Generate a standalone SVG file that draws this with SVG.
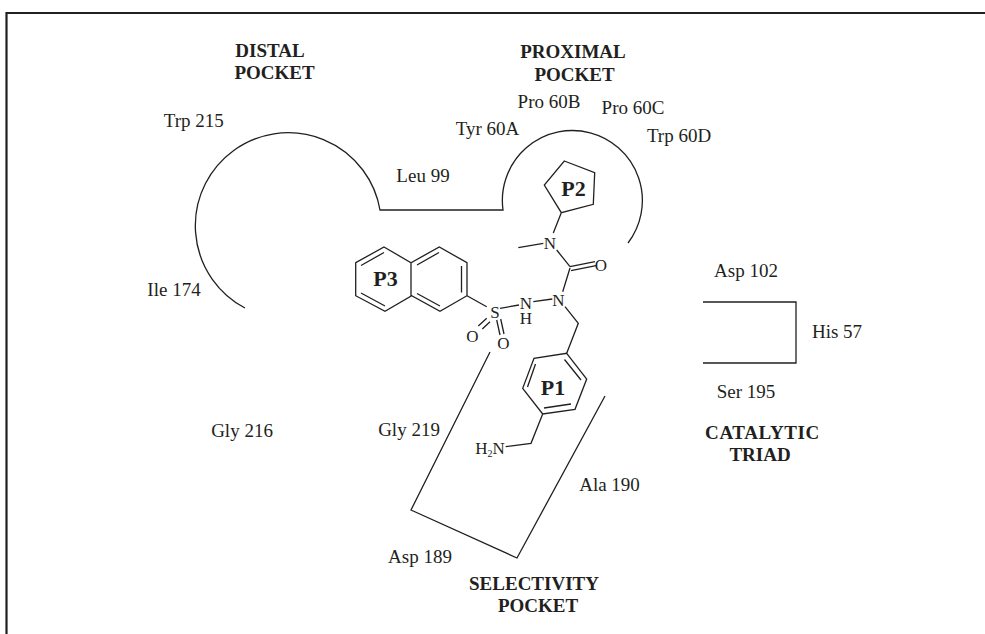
<svg xmlns="http://www.w3.org/2000/svg" width="985" height="634" viewBox="0 0 985 634">
<style>
text{font-family:"Liberation Serif","Times New Roman",serif;fill:#231f20;text-anchor:middle}
.l{font-size:19px}.b{font-size:19px;font-weight:bold}.p{font-size:22px;font-weight:bold}.a{font-size:17px}
.s{fill:none;stroke:#231f20;stroke-width:1.3;stroke-linejoin:miter}
.f{fill:none;stroke:#231f20;stroke-width:2.2}
</style>
<rect width="985" height="634" fill="#fff"/>
<path id="frame" class="f" d="M6.500 634V13H985"/>
<g id="connectors">
<path class="s" d="M245 308A93 93 0 1 1 380 210H503A70 70 0 1 1 628 243"/>
<path class="s" d="M490 352L411 510L517 558L605 396"/>
<path class="s" d="M703 302H796V363H703"/>
</g>
<g id="molecule">
<path class="s" d="M384 247L411 262.700L439.300 247L467 262.700V295.700L440 311.300L411.700 295.700L385 311.300L355.700 295.700V262.700ZM411 262.700V295.700M361 265.500L384 252.500M361 293L385 306M417 265L439 252.500M417 293.500L440 306M461.500 266V292.500"/>
<path class="s" d="M564.300 161L594.700 172.700L593.300 204.300L561.300 212.700L544.300 185ZM561.300 212.700L553.300 233M518.300 247.700L543.300 243.300M556.700 250L570 266.700M570 266.700L595 261.700M571 270.700L596 265.700M570 268L562.700 291.700M565 306.700L578.300 323.300L566.700 353.300"/>
<path class="s" d="M566.700 353.300L586.700 379L575 409.300L542.700 414L522.700 388.300L534 358.300ZM564.500 359.500L581 380M571 404L544 408M535.500 364L527.500 387M542.700 414L531 443.300L505.700 446.700"/>
<path class="s" d="M467 295.700L486.700 306.700M500 308.300L519 305M533.300 301.700L552.300 299M486.700 318.300L478.300 326M490 321.700L482.300 329M496.700 320L500 335M500.700 319L504 334"/>
<text class="a" x="550" y="249.300">N</text>
<text class="a" x="601" y="270.500">O</text>
<text class="a" x="558.300" y="305.500">N</text>
<text class="a"><tspan x="526" y="308.500">N</tspan><tspan x="526" y="323.500">H</tspan></text>
<text class="a" x="495" y="318">S</text>
<text class="a" x="472.300" y="341.700">O</text>
<text class="a" x="503.300" y="349.300">O</text>
<text class="a" x="490" y="454">H<tspan font-size="10" dy="3">2</tspan><tspan dy="-3">N</tspan></text>
</g>
<g id="p3"><text class="p" x="385.500" y="286">P3</text></g>
<g id="p2"><text class="p" x="573.500" y="195.700">P2</text></g>
<g id="p1"><text class="p" x="553" y="395">P1</text></g>
<g id="labels">
<text class="b" x="270" y="57.300">DISTAL</text><text class="b" x="274.500" y="79.300">POCKET</text>
<text class="b" x="573" y="58.300">PROXIMAL</text><text class="b" x="574.500" y="81">POCKET</text>
<text class="b" x="762.500" y="439" letter-spacing="0.600">CATALYTIC</text><text class="b" x="760" y="460.700">TRIAD</text>
<text class="b" x="534" y="590">SELECTIVITY</text><text class="b" x="538" y="612.300">POCKET</text>
<text class="l" x="193.800" y="127">Trp 215</text>
<text class="l" x="549" y="108.300">Pro 60B</text>
<text class="l" x="633" y="114">Pro 60C</text>
<text class="l" x="487.500" y="135">Tyr 60A</text>
<text class="l" x="679" y="141.700">Trp 60D</text>
<text class="l" x="423" y="181.700">Leu 99</text>
<text class="l" x="746" y="276.700">Asp 102</text>
<text class="l" x="837" y="338.300">His 57</text>
<text class="l" x="174" y="296">Ile 174</text>
<text class="l" x="746" y="398">Ser 195</text>
<text class="l" x="242" y="436.700">Gly 216</text>
<text class="l" x="409" y="436">Gly 219</text>
<text class="l" x="609.500" y="491">Ala 190</text>
<text class="l" x="420" y="563.300">Asp 189</text>
</g>
</svg>
